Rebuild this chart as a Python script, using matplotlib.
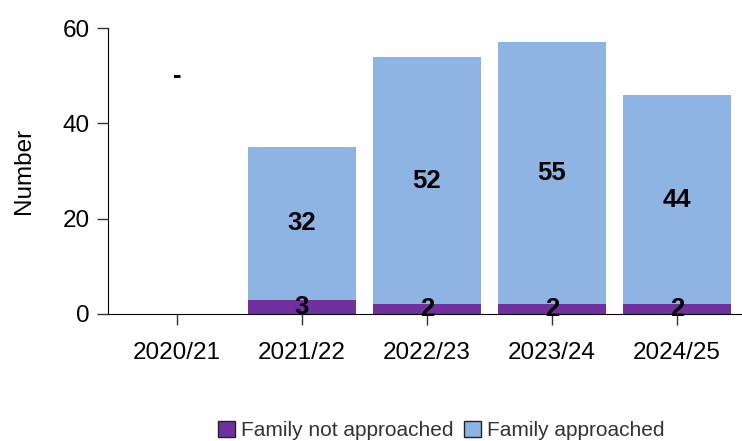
import numpy as np
import matplotlib
matplotlib.use('Agg')
import matplotlib.pyplot as plt
from matplotlib.patches import Patch

plt.rcParams['font.family'] = ['Liberation Sans', 'DejaVu Sans']

# Data
years = ['2020/21', '2021/22', '2022/23', '2023/24', '2024/25']
not_approached = [0, 3, 2, 2, 2]
approached = [0, 32, 52, 55, 44]
has_data = [False, True, True, True, True]

purple = '#7030A0'
blue = '#8EB4E3'

fig = plt.figure(figsize=(7.42, 4.41), dpi=100)
ax = fig.add_axes([0.1456, 0.288, 0.8544, 0.6485])

x = np.arange(len(years))
w = 0.86
na = np.array(not_approached)
ap = np.array(approached)
ax.bar(x, na, w, color=purple)
ax.bar(x, ap, w, bottom=na, color=blue)

for i in range(len(years)):
    if not has_data[i]:
        ax.text(x[i], 50, '-', ha='center', va='center', fontsize=18.5, fontweight='bold')
        continue
    ax.text(x[i], na[i] / 2, str(na[i]), ha='center', va='center', fontsize=18.5, fontweight='bold')
    ax.text(x[i], na[i] + ap[i] / 2, str(ap[i]), ha='center', va='center', fontsize=18.5, fontweight='bold')

ax.set_xlim(-0.55, 4.52)
ax.set_ylim(0, 60)
ax.set_yticks([0, 20, 40, 60])
ax.set_xticks(x)
ax.set_xticklabels(years)
ax.tick_params(labelsize=17.5, length=8, width=1, color='#333333')
ax.tick_params(axis='x', pad=12)
ax.tick_params(axis='y', pad=5)
ax.set_ylabel('Number', fontsize=17.5, labelpad=20)

for s in ['top', 'right']:
    ax.spines[s].set_visible(False)

handles = [Patch(facecolor=purple, edgecolor='#222222', label='Family not approached'),
           Patch(facecolor=blue, edgecolor='#222222', label='Family approached')]
fig.legend(handles=handles, loc='center', bbox_to_anchor=(0.595, 0.023), ncol=2,
           frameon=False, fontsize=15, handlelength=0.8, handleheight=0.8,
           handletextpad=0.3, columnspacing=0.5, labelcolor='#333333')

fig.savefig('out.png', dpi=100)
